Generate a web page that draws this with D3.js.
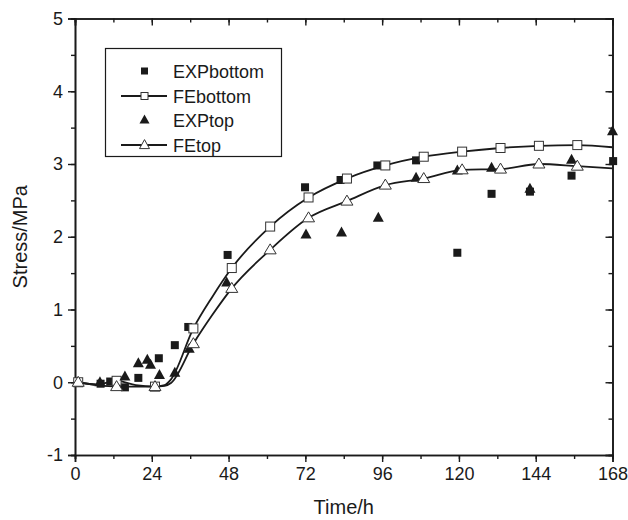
<!DOCTYPE html>
<html>
<head>
<meta charset="utf-8">
<script src="https://cdn.jsdelivr.net/npm/d3@7/dist/d3.min.js"></script>
<style>
body { margin:0; background:#fff; }
text { font-family:"Liberation Sans", Arial, sans-serif; fill:#1a1a1a; }
</style>
</head>
<body>
<div id="chart"></div>
<script>
// measured points (time in h, stress in MPa)
var expBottomTime = [8, 11, 15.6, 19.8, 26.2, 31.2, 35.4, 47.7, 71.9, 83, 94.5, 106.6, 119.5, 130.2, 142.2, 155.2, 168.2];
var expBottomVal  = [-0.02, 0.01, -0.07, 0.06, 0.33, 0.51, 0.76, 1.75, 2.68, 2.78, 2.98, 3.05, 1.78, 2.59, 2.62, 2.84, 3.04];
var expTopTime    = [7.8, 15.6, 19.8, 22.6, 23.6, 26.4, 31.2, 35.7, 47.4, 72.2, 83.3, 94.8, 106.6, 119.5, 130.2, 142.2, 155.2, 168];
var expTopVal     = [0.0, 0.08, 0.26, 0.31, 0.24, 0.10, 0.13, 0.46, 1.37, 2.03, 2.06, 2.26, 2.81, 2.91, 2.95, 2.66, 3.06, 3.45];

// FE curves, markers shown at feMarkTime
var feLineTime   = [1, 7, 13, 19, 25, 28, 30, 37, 43, 49, 61, 73, 85, 97, 109, 121, 133, 145, 157, 168];
var feBottomVal  = [0, -0.03, 0.02, -0.04, -0.06, -0.04, 0.04, 0.74, 1.18, 1.57, 2.14, 2.54, 2.80, 2.98, 3.10, 3.17, 3.22, 3.25, 3.26, 3.23];
var feTopVal     = [0, -0.04, -0.06, -0.06, -0.06, -0.05, -0.01, 0.53, 0.93, 1.29, 1.82, 2.26, 2.49, 2.71, 2.80, 2.92, 2.93, 3.00, 2.97, 2.94];
var feMarkTime   = [1, 13, 25, 37, 49, 61, 73, 85, 97, 109, 121, 133, 145, 157];

var xTicks = [0, 24, 48, 72, 96, 120, 144, 168];
var yTicks = [-1, 0, 1, 2, 3, 4, 5];
var legendNames = ["EXPbottom", "FEbottom", "EXPtop", "FEtop"];

var W = 628, H = 520;
var m = {left:75, right:15.5, top:18.5, bottom:65};

var svg = d3.select("#chart").append("svg")
	.attr("width", W)
	.attr("height", H);

var x = d3.scaleLinear().domain([0, 168]).range([m.left, W - m.right]);
var y = d3.scaleLinear().domain([-1, 5]).range([H - m.bottom, m.top]);

var ink = "#1a1a1a";

function zip(t, v) { return t.map(function(d, i){ return {t:d, v:v[i]}; }); }

function triPath(w, h) {
	return "M0," + (-h*0.6) + "L" + (w/2) + "," + (h*0.4) + "L" + (-w/2) + "," + (h*0.4) + "Z";
}

function plain(d) { return String(d); }   // keep ascii hyphen for -1

// clip for curves
svg.append("clipPath").attr("id", "clip")
	.append("rect")
	.attr("x", x(0)).attr("y", y(5))
	.attr("width", x(168) - x(0)).attr("height", y(-1) - y(5));

// axes
var minorX = d3.range(0, 169, 12), minorY = d3.range(-1, 5.01, 0.5);

var gx = svg.append("g").attr("transform", "translate(0," + y(-1) + ")")
	.call(d3.axisBottom(x).tickValues(minorX).tickSize(4).tickFormat(""));
gx.append("g").call(d3.axisBottom(x).tickValues(xTicks).tickSize(7).tickPadding(5).tickFormat(plain));

var gy = svg.append("g").attr("transform", "translate(" + x(0) + ",0)")
	.call(d3.axisLeft(y).tickValues(minorY).tickSize(4).tickFormat(""));
gy.append("g").call(d3.axisLeft(y).tickValues(yTicks).tickSize(7).tickPadding(5).tickFormat(plain));

var gt = svg.append("g").attr("transform", "translate(0," + y(5) + ")")
	.call(d3.axisBottom(x).tickValues(minorX).tickSize(4).tickFormat(""));
gt.append("g").call(d3.axisBottom(x).tickValues(xTicks).tickSize(7).tickFormat(""));

var gr = svg.append("g").attr("transform", "translate(" + x(168) + ",0)")
	.call(d3.axisLeft(y).tickValues(minorY).tickSize(4).tickFormat(""));
gr.append("g").call(d3.axisLeft(y).tickValues(yTicks).tickSize(7).tickFormat(""));

svg.selectAll(".domain").attr("stroke", ink).attr("stroke-width", 1.6);
svg.selectAll(".tick line").attr("stroke", ink).attr("stroke-width", 1.4);
svg.selectAll(".tick text")
	.style("font-family", "'Liberation Sans', Arial, sans-serif")
	.style("font-size", "18px")
	.attr("fill", ink);

svg.append("text")
	.attr("x", (x(0) + x(168)) / 2).attr("y", 514)
	.attr("text-anchor", "middle")
	.style("font-size", "20px")
	.text("Time/h");

svg.append("text")
	.attr("transform", "translate(27," + (y(2)) + ") rotate(-90)")
	.attr("text-anchor", "middle")
	.style("font-size", "20px")
	.text("Stress/MPa");

// FE curves
var line = d3.line()
	.x(function(d){ return x(d.t); })
	.y(function(d){ return y(d.v); })
	.curve(d3.curveMonotoneX);

var feBottom = zip(feLineTime, feBottomVal);
var feTop = zip(feLineTime, feTopVal);

[feBottom, feTop].forEach(function(s){
	svg.append("path")
		.datum(s)
		.attr("clip-path", "url(#clip)")
		.attr("d", line)
		.attr("fill", "none")
		.attr("stroke", ink)
		.attr("stroke-width", 1.8);
});

function isMark(d) { return feMarkTime.indexOf(d.t) >= 0; }

// EXPbottom
svg.selectAll("rect.expB")
	.data(zip(expBottomTime, expBottomVal))
	.enter().append("rect")
	.attr("class", "expB")
	.attr("x", function(d){ return x(d.t) - 4; })
	.attr("y", function(d){ return y(d.v) - 4; })
	.attr("width", 8).attr("height", 8)
	.attr("fill", ink);

// FEbottom markers
svg.selectAll("rect.feB")
	.data(feBottom.filter(isMark))
	.enter().append("rect")
	.attr("class", "feB")
	.attr("x", function(d){ return x(d.t) - 4.5; })
	.attr("y", function(d){ return y(d.v) - 4.5; })
	.attr("width", 9).attr("height", 9)
	.attr("fill", "#fff").attr("stroke", "#333").attr("stroke-width", 1);

// EXPtop
svg.selectAll("path.expT")
	.data(zip(expTopTime, expTopVal))
	.enter().append("path")
	.attr("class", "expT")
	.attr("transform", function(d){ return "translate(" + x(d.t) + "," + y(d.v) + ")"; })
	.attr("d", triPath(11, 10))
	.attr("fill", ink);

// FEtop markers
svg.selectAll("path.feT")
	.data(feTop.filter(isMark))
	.enter().append("path")
	.attr("class", "feT")
	.attr("transform", function(d){ return "translate(" + x(d.t) + "," + y(d.v) + ")"; })
	.attr("d", triPath(12, 10))
	.attr("fill", "#fff").attr("stroke", "#333").attr("stroke-width", 1);

// legend
var lg = svg.append("g");
lg.append("rect")
	.attr("x", 105.5).attr("y", 48.5)
	.attr("width", 176).attr("height", 108)
	.attr("fill", "#fff").attr("stroke", ink).attr("stroke-width", 1.2);

var rowY = [71, 96, 120, 145], symX = 144.5;
legendNames.forEach(function(name, i){
	var cy = rowY[i];
	if (i == 1 || i == 3) {
		lg.append("line")
			.attr("x1", 121).attr("x2", 167)
			.attr("y1", cy).attr("y2", cy)
			.attr("stroke", ink).attr("stroke-width", 1.8);
	}
	if (i == 0) {
		lg.append("rect").attr("x", symX - 3.5).attr("y", cy - 3.5)
			.attr("width", 7).attr("height", 7).attr("fill", ink);
	} else if (i == 1) {
		lg.append("rect").attr("x", symX - 3.5).attr("y", cy - 3.5)
			.attr("width", 7).attr("height", 7)
			.attr("fill", "#fff").attr("stroke", "#333").attr("stroke-width", 1);
	} else if (i == 2) {
		lg.append("path").attr("transform", "translate(" + symX + "," + cy + ")")
			.attr("d", triPath(10, 9)).attr("fill", ink);
	} else {
		lg.append("path").attr("transform", "translate(" + symX + "," + cy + ")")
			.attr("d", triPath(10, 9))
			.attr("fill", "#fff").attr("stroke", "#333").attr("stroke-width", 1);
	}
	lg.append("text")
		.attr("x", 173).attr("y", cy + 6.5)
		.style("font-size", "18px")
		.text(name);
});
</script>
</body>
</html>
